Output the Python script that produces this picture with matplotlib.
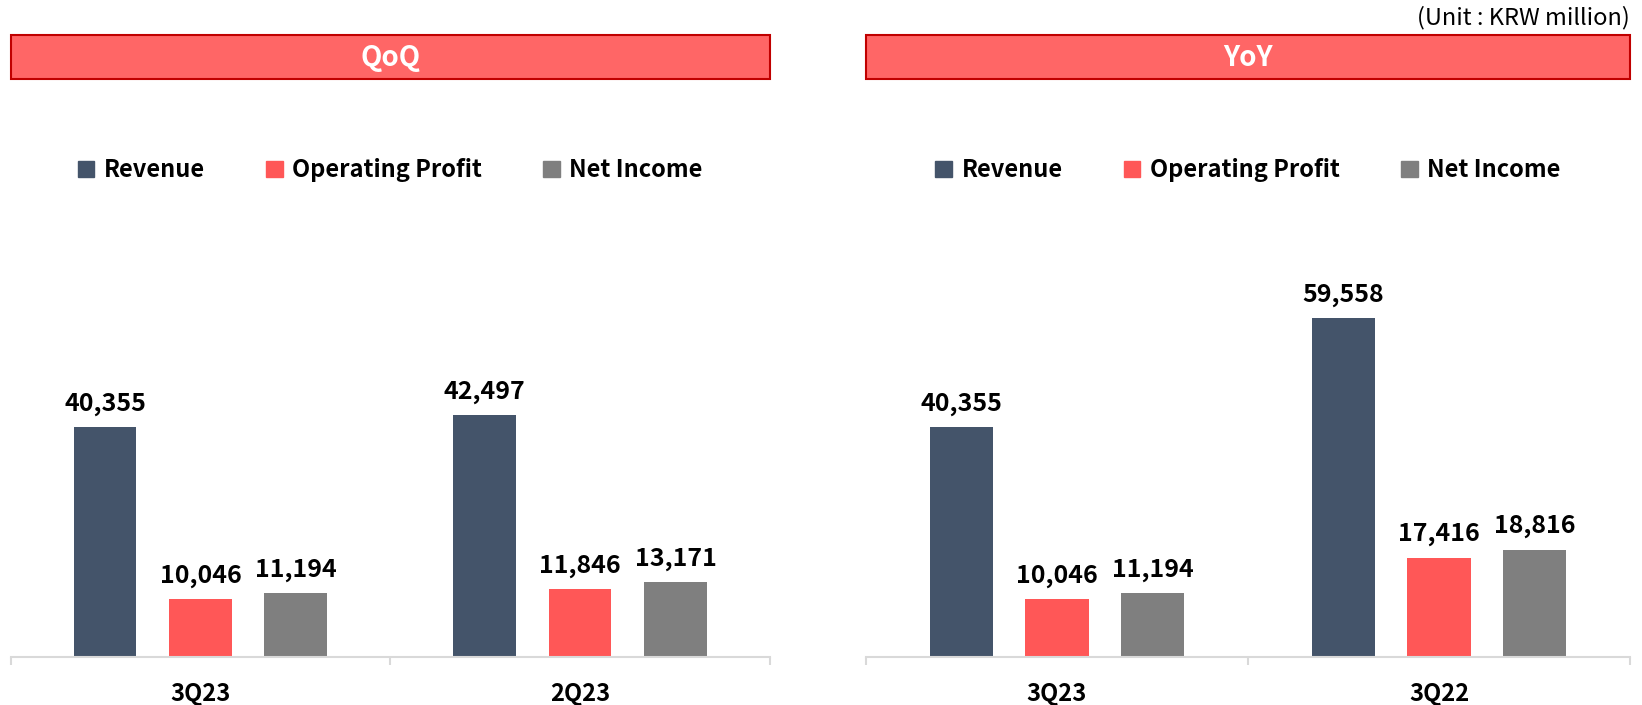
import matplotlib
matplotlib.use("Agg")
import matplotlib.pyplot as plt
import numpy as np
from matplotlib.patches import Rectangle, Patch

plt.rcParams['font.family'] = ['Noto Sans CJK KR', 'DejaVu Sans']

series = ['Revenue', 'Operating Profit', 'Net Income']
colors = ['#44546a', '#ff5757', '#7f7f7f']

qoq_labels = ['3Q23', '2Q23']
qoq_revenue = [40355, 42497]
qoq_op = [10046, 11846]
qoq_ni = [11194, 13171]

yoy_labels = ['3Q23', '3Q22']
yoy_revenue = [40355, 59558]
yoy_op = [10046, 17416]
yoy_ni = [11194, 18816]

W, H = 1642, 705
fig = plt.figure(figsize=(W / 100, H / 100), dpi=100)


def panel(rect, title, cats, vals):
    ax = fig.add_axes(rect)
    x = np.arange(len(cats))
    width = 0.165
    step = 0.251
    for i, (v, c) in enumerate(zip(vals, colors)):
        bars = ax.bar(x + (i - 1) * step, v, width, color=c, label=series[i])
        for b, val in zip(bars, v):
            ax.annotate(f'{val:,}', (b.get_x() + b.get_width() / 2, b.get_height()),
                        xytext=(0, 8), textcoords='offset points',
                        ha='center', va='bottom', fontsize=18, fontweight='bold')
    ax.set_xlim(-0.5, len(cats) - 0.5)
    ax.set_ylim(0, 80000)
    ax.set_yticks([])
    for s in ['top', 'left', 'right']:
        ax.spines[s].set_visible(False)
    ax.spines['bottom'].set_color('#d9d9d9')
    ax.spines['bottom'].set_linewidth(1.5)
    ax.set_xticks(x)
    ax.set_xticklabels(cats, fontsize=17, fontweight='bold')
    ax.tick_params(axis='x', which='major', length=0, pad=18)
    ax.set_xticks(np.arange(len(cats) + 1) - 0.5, minor=True)
    ax.tick_params(axis='x', which='minor', length=6, width=1.5, color='#d9d9d9')

    ax.add_patch(Rectangle((0, 1.2705), 1, 0.0965, transform=ax.transAxes,
                           facecolor='#ff6666', edgecolor='#c00000', linewidth=1.5,
                           clip_on=False))
    ax.text(0.5, 1.316, title, transform=ax.transAxes, ha='center', va='center',
            color='white', fontsize=20, fontweight='bold')

    handles = [Patch(color=c) for c in colors]
    ax.legend(handles, series, loc='center', bbox_to_anchor=(0.5, 1.069), ncol=3,
              frameon=False, prop={'weight': 'bold', 'size': 17},
              handlelength=0.7, handleheight=0.7, handletextpad=0.4,
              columnspacing=2.6)
    return ax


bottom = (H - 656.6) / H
height = 455 / H
panel([10.5 / W, bottom, 759.5 / W, height], 'QoQ', qoq_labels,
      [qoq_revenue, qoq_op, qoq_ni])
panel([866 / W, bottom, 764 / W, height], 'YoY', yoy_labels,
      [yoy_revenue, yoy_op, yoy_ni])

fig.text(1630 / W, 1 - 18 / H, '(Unit : KRW million)', ha='right', va='center',
         fontsize=17)

fig.savefig('out.png', dpi=100)
